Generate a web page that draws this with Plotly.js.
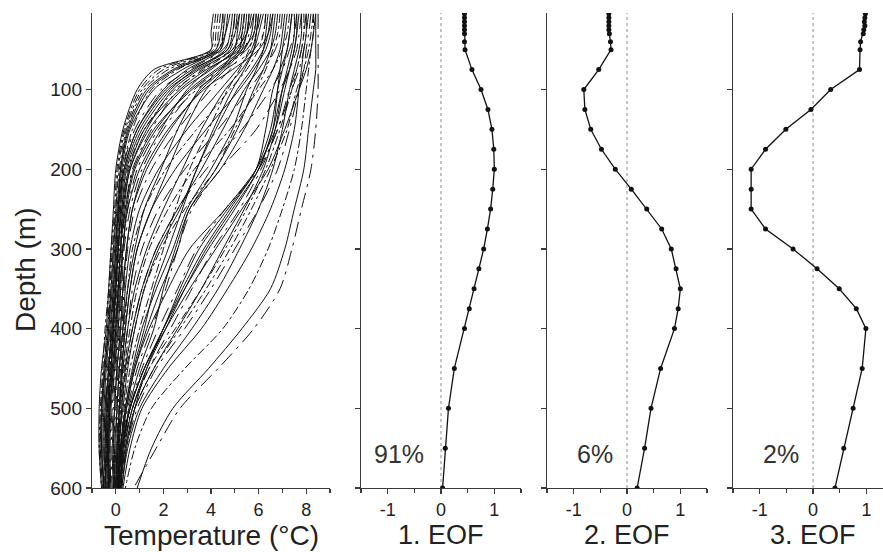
<!DOCTYPE html>
<html>
<head>
<meta charset="utf-8">
<script src="https://cdn.plot.ly/plotly-3.0.1.min.js"></script>
<style>html,body{margin:0;padding:0;background:#fff;}#chart{width:883px;height:552px;}</style>
</head>
<body>
<div id="chart"></div>
<script>
// ---------- DATA ----------
// Depth levels (m) of the hand-read temperature profiles
const profileDepth = [5, 30, 50, 75, 100, 150, 200, 250, 300, 350, 400, 450, 500, 550, 600];

// Cold profiles: sharp drop below ~50 m, near 0 °C at depth
const coldProfiles = [
  [4.1, 4.0, 4.0, 1.6, 0.9, 0.3, 0.0, -0.1, -0.2, -0.3, -0.4, -0.6, -0.7, -0.7, -0.6],
  [4.3, 4.2, 4.1, 2.0, 1.1, 0.4, 0.1, 0.0, -0.15, -0.25, -0.35, -0.5, -0.6, -0.65, -0.55],
  [4.5, 4.4, 4.2, 2.4, 1.3, 0.5, 0.2, 0.05, -0.1, -0.2, -0.3, -0.45, -0.55, -0.6, -0.5],
  [4.8, 4.6, 4.3, 2.8, 1.6, 0.6, 0.25, 0.1, 0.0, -0.1, -0.25, -0.4, -0.5, -0.55, -0.5],
  [5.0, 4.9, 4.5, 3.1, 1.9, 0.8, 0.3, 0.15, 0.05, -0.05, -0.2, -0.35, -0.45, -0.5, -0.45],
  [5.2, 5.0, 4.7, 3.4, 2.2, 1.0, 0.4, 0.2, 0.1, 0.0, -0.15, -0.3, -0.4, -0.45, -0.4],
  [5.4, 5.3, 4.9, 3.7, 2.5, 1.2, 0.5, 0.3, 0.15, 0.05, -0.1, -0.25, -0.35, -0.4, -0.35],
  [4.6, 4.5, 4.4, 3.0, 2.0, 0.9, 0.35, 0.1, 0.0, -0.1, -0.2, -0.3, -0.45, -0.5, -0.4],
  [5.7, 5.5, 5.0, 4.0, 2.8, 1.4, 0.6, 0.35, 0.2, 0.1, -0.05, -0.2, -0.3, -0.35, -0.3],
  [5.1, 5.0, 4.8, 3.6, 2.6, 1.5, 0.7, 0.4, 0.25, 0.15, 0.0, -0.15, -0.3, -0.35, -0.3],
  [5.9, 5.8, 5.3, 4.2, 3.1, 1.7, 0.8, 0.45, 0.3, 0.15, 0.05, -0.1, -0.25, -0.3, -0.25],
  [4.4, 4.3, 4.2, 2.6, 1.5, 0.7, 0.3, 0.2, 0.1, 0.0, -0.1, -0.25, -0.35, -0.4, -0.45],
  [5.5, 5.4, 5.1, 3.9, 3.0, 1.9, 1.0, 0.5, 0.3, 0.2, 0.1, -0.05, -0.2, -0.25, -0.2],
  [4.9, 4.8, 4.6, 3.3, 2.3, 1.1, 0.45, 0.25, 0.1, 0.0, -0.1, -0.2, -0.3, -0.35, -0.3],
  [6.1, 5.9, 5.5, 4.4, 3.3, 2.0, 1.1, 0.6, 0.35, 0.25, 0.15, 0.0, -0.1, -0.2, -0.15],
  [5.3, 5.2, 4.9, 3.5, 2.4, 1.3, 0.6, 0.3, 0.2, 0.1, 0.0, -0.1, -0.25, -0.3, -0.25],
  [4.2, 4.1, 4.0, 1.8, 1.0, 0.35, 0.05, -0.05, -0.2, -0.3, -0.45, -0.55, -0.65, -0.7, -0.6],
  [4.7, 4.6, 4.4, 2.5, 1.4, 0.55, 0.2, 0.1, -0.05, -0.15, -0.3, -0.45, -0.6, -0.6, -0.5],
  [5.6, 5.5, 5.2, 3.8, 2.7, 1.2, 0.55, 0.25, 0.1, 0.0, -0.1, -0.2, -0.35, -0.4, -0.35],
  [6.3, 6.2, 5.8, 4.6, 3.4, 1.8, 0.9, 0.5, 0.3, 0.2, 0.1, -0.05, -0.15, -0.25, -0.2],
  [5.0, 4.9, 4.7, 3.2, 2.1, 0.9, 0.35, 0.15, 0.05, -0.05, -0.15, -0.3, -0.4, -0.45, -0.45],
  [4.5, 4.5, 4.3, 2.2, 1.2, 0.45, 0.15, 0.0, -0.1, -0.2, -0.35, -0.5, -0.6, -0.65, -0.55],
  [6.6, 6.4, 6.0, 4.9, 3.7, 2.2, 1.2, 0.7, 0.45, 0.3, 0.2, 0.05, -0.05, -0.1, -0.1],
  [5.8, 5.7, 5.4, 4.3, 3.2, 1.6, 0.75, 0.4, 0.2, 0.1, 0.0, -0.15, -0.25, -0.3, -0.3]
];

// Intermediate profiles: gradual cooling through 100-400 m
const midProfiles = [
  [5.8, 5.6, 5.4, 4.8, 4.0, 2.6, 1.5, 0.8, 0.5, 0.35, 0.25, 0.1, 0.0, -0.1, -0.1],
  [6.0, 5.9, 5.7, 5.1, 4.4, 3.0, 1.8, 1.0, 0.6, 0.4, 0.3, 0.15, 0.05, 0.0, -0.05],
  [6.3, 6.2, 6.0, 5.5, 4.8, 3.4, 2.1, 1.2, 0.7, 0.5, 0.35, 0.2, 0.1, 0.05, 0.0],
  [5.6, 5.5, 5.3, 4.6, 3.8, 2.9, 2.2, 1.5, 0.9, 0.6, 0.4, 0.25, 0.15, 0.05, 0.0],
  [6.6, 6.5, 6.3, 5.8, 5.2, 3.8, 2.5, 1.5, 0.9, 0.6, 0.4, 0.25, 0.15, 0.1, 0.05],
  [7.0, 6.9, 6.7, 6.2, 5.6, 4.3, 2.9, 1.8, 1.1, 0.7, 0.5, 0.3, 0.2, 0.1, 0.05],
  [5.4, 5.3, 5.2, 4.5, 3.6, 2.3, 1.3, 0.7, 0.45, 0.3, 0.2, 0.05, -0.05, -0.15, -0.1],
  [7.3, 7.2, 7.0, 6.6, 6.0, 4.8, 3.3, 2.2, 1.4, 0.9, 0.6, 0.35, 0.2, 0.1, 0.1],
  [6.8, 6.7, 6.5, 6.0, 5.4, 4.5, 3.6, 2.6, 1.7, 1.1, 0.7, 0.4, 0.25, 0.15, 0.1],
  [5.2, 5.1, 5.0, 4.4, 3.5, 2.6, 1.9, 1.2, 0.8, 0.5, 0.3, 0.15, 0.05, -0.05, -0.05],
  [7.6, 7.5, 7.3, 7.0, 6.5, 5.3, 3.8, 2.6, 1.7, 1.1, 0.7, 0.4, 0.25, 0.15, 0.1],
  [6.2, 6.0, 5.8, 5.3, 4.6, 3.6, 2.8, 2.0, 1.3, 0.8, 0.5, 0.3, 0.15, 0.05, 0.0],
  [6.9, 6.8, 6.6, 6.3, 5.9, 5.0, 4.2, 2.9, 1.9, 1.2, 0.8, 0.45, 0.25, 0.15, 0.1],
  [6.4, 6.3, 6.2, 5.9, 5.5, 4.9, 4.0, 3.0, 2.4, 1.7, 1.1, 0.7, 0.4, 0.2, 0.1],
  [7.1, 7.0, 6.9, 6.6, 6.2, 5.4, 4.4, 3.1, 2.6, 1.9, 1.3, 0.8, 0.45, 0.25, 0.1],
  [7.8, 7.7, 7.6, 7.3, 6.9, 5.9, 4.4, 3.2, 2.6, 2.1, 1.5, 0.9, 0.5, 0.25, 0.15],
  [6.7, 6.6, 6.5, 6.2, 5.8, 5.1, 4.2, 3.1, 2.5, 2.0, 1.6, 1.0, 0.55, 0.3, 0.15],
  [5.9, 5.8, 5.6, 5.2, 4.7, 3.9, 3.1, 2.5, 2.0, 1.5, 1.0, 0.6, 0.35, 0.2, 0.05],
  [6.5, 6.4, 6.2, 5.7, 5.1, 4.2, 3.4, 2.8, 2.2, 1.6, 1.2, 0.75, 0.4, 0.2, 0.1],
  [6.0, 5.9, 5.8, 5.4, 4.9, 4.1, 3.4, 2.7, 1.8, 1.2, 0.8, 0.5, 0.3, 0.1, 0.0]
];

// Warm profiles: stay warm down to 200-300 m
const warmProfiles = [
  [8.5, 8.5, 8.5, 8.5, 8.5, 8.4, 8.2, 7.8, 7.4, 6.9, 5.8, 4.3, 2.7, 1.7, 0.75],
  [8.4, 8.4, 8.4, 8.4, 8.3, 8.1, 7.9, 7.5, 7.1, 6.5, 5.3, 3.9, 2.4, 1.5, 0.9],
  [8.3, 8.3, 8.2, 8.1, 8.0, 7.8, 7.5, 7.0, 6.4, 5.6, 4.5, 2.9, 1.5, 0.8, 0.4],
  [8.0, 8.0, 7.9, 7.8, 7.7, 7.5, 7.1, 6.5, 5.7, 4.7, 3.6, 2.2, 1.1, 0.6, 0.3],
  [7.8, 7.8, 7.7, 7.5, 7.3, 7.0, 6.6, 6.0, 5.2, 4.3, 3.2, 2.0, 1.0, 0.5, 0.25],
  [8.2, 8.1, 8.0, 7.9, 7.7, 7.3, 6.8, 6.0, 5.0, 4.0, 2.9, 1.7, 0.9, 0.45, 0.2],
  [7.5, 7.5, 7.4, 7.2, 7.0, 6.7, 6.2, 5.4, 4.5, 3.6, 2.6, 1.6, 0.8, 0.4, 0.2],
  [7.9, 7.9, 7.8, 7.6, 7.4, 6.9, 6.3, 5.5, 4.6, 3.6, 2.5, 1.4, 0.7, 0.3, 0.1],
  [8.4, 8.3, 8.2, 8.0, 7.7, 7.1, 6.4, 5.3, 4.2, 3.1, 2.1, 1.2, 0.6, 0.25, 0.1],
  [7.7, 7.6, 7.5, 7.3, 7.0, 6.6, 6.0, 5.0, 3.9, 2.9, 2.0, 1.2, 0.6, 0.25, 0.1],
  [8.1, 8.0, 7.9, 7.7, 7.4, 6.8, 6.1, 5.2, 4.1, 3.2, 2.3, 1.4, 0.7, 0.35, 0.15],
  [7.2, 7.1, 7.0, 6.9, 6.8, 6.6, 6.0, 4.9, 3.8, 2.9, 2.1, 1.3, 0.7, 0.35, 0.2],
  [8.3, 8.2, 8.1, 7.9, 7.6, 7.2, 6.5, 5.7, 4.8, 3.8, 2.7, 1.6, 0.8, 0.4, 0.15],
  [7.4, 7.3, 7.2, 7.0, 6.8, 6.5, 5.9, 4.8, 3.7, 2.8, 2.0, 1.3, 0.8, 0.45, 0.25],
  [7.4, 7.3, 7.2, 6.9, 6.6, 6.3, 5.9, 4.7, 3.5, 2.7, 2.0, 1.2, 0.6, 0.3, 0.2],
  [8.0, 7.9, 7.8, 7.6, 7.3, 6.8, 6.0, 4.6, 3.4, 2.6, 1.8, 1.1, 0.6, 0.3, 0.1],
  [7.6, 7.6, 7.5, 7.3, 7.1, 6.7, 5.9, 4.6, 3.1, 2.2, 1.4, 0.8, 0.45, 0.2, 0.05]
];

// EOF depths (m) and loadings
const eofDepth = [5, 10, 15, 20, 25, 30, 40, 50, 75, 100, 125, 150, 175, 200, 225, 250, 275, 300, 325, 350, 375, 400, 450, 500, 550, 600];
const eof1 = [0.44, 0.44, 0.44, 0.44, 0.44, 0.44, 0.44, 0.45, 0.58, 0.75, 0.88, 0.955, 0.99, 1.0, 0.97, 0.93, 0.87, 0.80, 0.71, 0.62, 0.53, 0.44, 0.25, 0.14, 0.08, 0.03];
const eof2 = [-0.34, -0.34, -0.34, -0.34, -0.34, -0.33, -0.31, -0.30, -0.53, -0.81, -0.79, -0.68, -0.48, -0.22, 0.08, 0.37, 0.65, 0.83, 0.92, 1.0, 0.96, 0.89, 0.63, 0.45, 0.33, 0.19];
const eof3 = [0.98, 0.97, 0.96, 0.97, 0.95, 0.94, 0.89, 0.88, 0.87, 0.33, -0.04, -0.51, -0.89, -1.16, -1.16, -1.16, -0.89, -0.375, 0.075, 0.49, 0.81, 0.99, 0.92, 0.75, 0.575, 0.41];

const depthTicks = [100, 200, 300, 400, 500, 600];
const tempTicks = [0, 2, 4, 6, 8];
const eofTicks = [-1, 0, 1];
const eofTickText = ['-1', '0', '1'];
const eofTitles = ['1. EOF', '2. EOF', '3. EOF'];
const varianceLabels = ['91%', '6%', '2%'];

// ---------- CHART ----------
const W = 883, H = 552;
const FONT = 'Liberation Sans, Arial, Helvetica, sans-serif';
const AX = '#3a3a3a';
const traces = [];

const lineStyles = ['solid', 'dashdot', 'solid', 'solid', 'longdashdot'];
let k = 0;
[coldProfiles, midProfiles, warmProfiles].forEach(group => {
  group.forEach(p => {
    traces.push({
      x: p, y: profileDepth, xaxis: 'x', yaxis: 'y', type: 'scatter', mode: 'lines',
      line: {color: '#111', width: 1.0, shape: 'spline', smoothing: 0.8, dash: lineStyles[k % lineStyles.length]},
      hoverinfo: 'skip', showlegend: false
    });
    k++;
  });
});

[eof1, eof2, eof3].forEach((e, i) => {
  traces.push({
    x: e, y: eofDepth, xaxis: 'x' + (i + 2), yaxis: 'y' + (i + 2), type: 'scatter', mode: 'lines+markers',
    line: {color: '#111', width: 1.3}, marker: {color: '#111', size: 5},
    showlegend: false
  });
});

function px(x) { return x / W; }
const plotTop = 13, plotBottom = 488;
function py(y) { return (plotBottom - y) / (plotBottom - plotTop); }

const baseAxis = {
  showline: true, linecolor: AX, linewidth: 1.2, ticks: 'outside', ticklen: 5, tickwidth: 1.2, tickcolor: AX,
  showgrid: false, zeroline: false, tickfont: {family: FONT, size: 18, color: '#222'}, fixedrange: true
};

const layout = {
  width: W, height: H,
  margin: {l: 0, r: 0, t: plotTop, b: H - plotBottom, pad: 0},
  paper_bgcolor: '#fff', plot_bgcolor: '#fff', showlegend: false,
  xaxis: Object.assign({}, baseAxis, {domain: [px(92), px(330)], range: [-1, 9], tickvals: tempTicks, anchor: 'y',
    minor: {dtick: 1, tick0: 0, ticks: 'outside', ticklen: 4, tickcolor: AX, tickwidth: 1.2, showgrid: false}}),
  yaxis: Object.assign({}, baseAxis, {domain: [0, 1], range: [600, 4], tickvals: depthTicks, anchor: 'x', tickfont: {family: FONT, size: 19, color: '#222'}}),
  shapes: [], annotations: []
};

const eofDomains = [[361, 521, [-1.5, 1.5]], [547, 707, [-1.5, 1.5]], [733, 883, [-1.5, 1.31]]];
eofDomains.forEach((d, i) => {
  const n = i + 2;
  layout['xaxis' + n] = Object.assign({}, baseAxis, {domain: [px(d[0]), px(d[1])], range: d[2], tickvals: eofTicks, ticktext: eofTickText, anchor: 'y' + n,
    minor: {dtick: 0.5, tick0: 0, ticks: 'outside', ticklen: 4, tickcolor: AX, tickwidth: 1.2, showgrid: false}});
  layout['yaxis' + n] = Object.assign({}, baseAxis, {domain: [0, 1], range: [600, 4], tickvals: depthTicks, anchor: 'x' + n, showticklabels: false});
  layout.shapes.push({type: 'line', xref: 'x' + n, yref: 'paper', x0: 0, x1: 0, y0: 0, y1: 1,
    line: {color: '#8a8a8a', width: 1, dash: 'dot'}, layer: 'below'});
  layout.annotations.push({xref: 'x' + n, yref: 'paper', x: 0, y: py(535), text: eofTitles[i], showarrow: false,
    xanchor: 'center', yanchor: 'middle', font: {family: FONT, size: 27, color: '#222'}});
});

const pctX = [399, 595, 781];
varianceLabels.forEach((t, i) => {
  layout.annotations.push({xref: 'paper', yref: 'paper', x: px(pctX[i]), y: py(454), text: t, showarrow: false,
    xanchor: 'center', yanchor: 'middle', font: {family: FONT, size: 25, color: '#333'}});
});

layout.annotations.push({xref: 'paper', yref: 'paper', x: px(211), y: py(535), text: 'Temperature (°C)', showarrow: false,
  xanchor: 'center', yanchor: 'middle', font: {family: FONT, size: 28, color: '#222'}});
layout.annotations.push({xref: 'paper', yref: 'paper', x: px(25), y: py(270), text: 'Depth (m)', showarrow: false, textangle: -90,
  xanchor: 'center', yanchor: 'middle', font: {family: FONT, size: 28, color: '#222'}});

Plotly.newPlot('chart', traces, layout, {staticPlot: true, displayModeBar: false});
</script>
</body>
</html>
